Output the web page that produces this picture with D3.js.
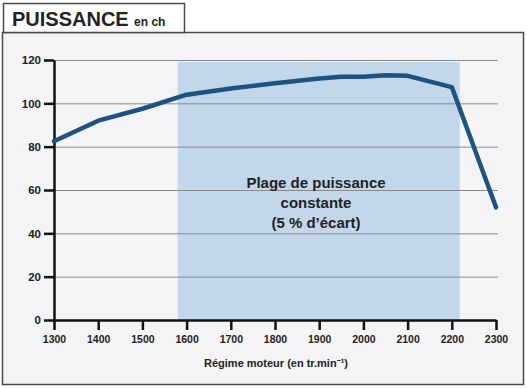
<!DOCTYPE html>
<html><head><meta charset="utf-8">
<script src="https://cdn.jsdelivr.net/npm/d3@7"></script>
<style>body{margin:0;background:#fff}svg{display:block}text{font-family:"Liberation Sans",Arial,Helvetica,sans-serif}</style>
</head><body><svg id="c" width="527" height="388"></svg>
<script>
const rpm =   [1300,1400,1500,1600,1700,1800,1900,1950,2000,2050,2100,2200,2300];
const power = [82.5,92,97.5,104,106.8,109.3,111.5,112.3,112.3,113,112.7,107.5,52];
const band = [1580, 2218];
const xTicks = [1300,1400,1500,1600,1700,1800,1900,2000,2100,2200,2300];
const yTicks = [0,20,40,60,80,100,120];
const title = "PUISSANCE", unit = "en ch";
const xLabel = "Régime moteur (en tr.min\u207B\u00B9)";
const note = ["Plage de puissance","constante","(5 % d\u2019écart)"];

const svg = d3.select("#c");
svg.append("rect").attr("x",2.5).attr("y",32.5).attr("width",521).attr("height",352)
  .attr("fill","#f4f3f6").attr("stroke","#4a4a4a").attr("stroke-width",1.5);
svg.append("rect").attr("x",3.5).attr("y",3.5).attr("width",181).attr("height",29)
  .attr("fill","#fff").attr("stroke","#4a4a4a").attr("stroke-width",1.5);
const t = svg.append("text").attr("x",12).attr("y",26).attr("fill","#222");
t.append("tspan").text(title).attr("font-size",20).attr("font-weight","bold");
t.append("tspan").text(" "+unit).attr("font-size",12).attr("font-weight","bold").attr("dx",2);

const x = d3.scaleLinear().domain([1300,2300]).range([54,496]);
const y = d3.scaleLinear().domain([0,120]).range([320,60]);

svg.append("rect").attr("x",x(band[0])).attr("y",y(120)+2).attr("width",x(band[1])-x(band[0]))
  .attr("height",y(0)-y(120)-2).attr("fill","#c3d7ea");

svg.append("g").selectAll("line").data(yTicks.filter(d=>d>0)).join("line")
  .attr("x1",x(1300)).attr("x2",x(2300)+2).attr("y1",d=>y(d)+0.5).attr("y2",d=>y(d)+0.5)
  .attr("stroke","#8a8a8a").attr("stroke-width",1);

const ya = svg.append("g").attr("transform",`translate(${x(1300)},0)`)
  .call(d3.axisLeft(y).tickValues(yTicks).tickSize(10).tickPadding(3).tickSizeOuter(0));
ya.select(".domain").attr("stroke","#111").attr("stroke-width",2.5);
ya.selectAll(".tick line").attr("stroke","#111").attr("stroke-width",2.5);
ya.selectAll("text").attr("font-size",11.5).attr("font-weight","bold").attr("fill","#222");

const xa = svg.append("g").attr("transform",`translate(0,${y(0)})`)
  .call(d3.axisBottom(x).tickValues(xTicks).tickFormat(d3.format("d")).tickSize(10).tickPadding(6).tickSizeOuter(0));
xa.select(".domain").attr("stroke","#111").attr("stroke-width",2.5);
xa.selectAll(".tick line").attr("stroke","#111").attr("stroke-width",2.5);
xa.selectAll("text").attr("font-size",10.5).attr("font-weight","bold").attr("fill","#222");

svg.append("path").datum(rpm.map((r,i)=>[r,power[i]]))
  .attr("d",d3.line().x(d=>x(d[0])).y(d=>y(d[1])))
  .attr("fill","none").attr("stroke","#1d5283").attr("stroke-width",4.5)
  .attr("stroke-linejoin","round").attr("stroke-linecap","round");

svg.append("text").attr("x",276).attr("y",367).attr("text-anchor","middle")
  .attr("font-size",11).attr("font-weight","bold").attr("fill","#222").text(xLabel);

svg.append("g").selectAll("text").data(note).join("text")
  .attr("x",316).attr("y",(d,i)=>188+i*20).attr("text-anchor","middle")
  .attr("font-size",15).attr("font-weight","bold").attr("fill","#222").text(d=>d);
</script></body></html>
